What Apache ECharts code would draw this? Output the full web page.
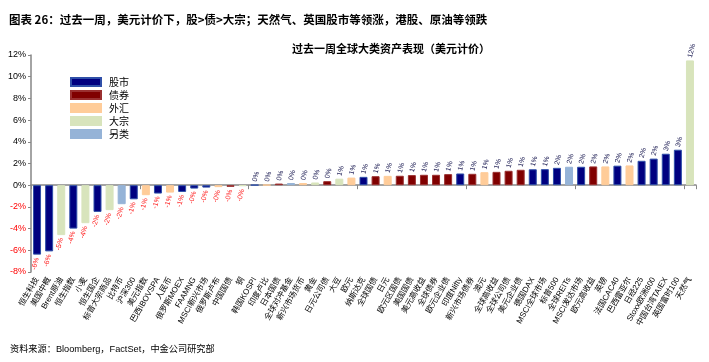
<!DOCTYPE html>
<html>
<head>
<meta charset="utf-8">
<script src="https://cdn.jsdelivr.net/npm/echarts@6/dist/echarts.min.js"></script>
<style>
html,body{margin:0;padding:0;background:#fff;}
#c{width:709px;height:362px;}
</style>
</head>
<body>
<div id="c"></div>
<script>
const categories = ['恒生科技','美国中概','Brent原油','恒生指数','小麦','恒生国企','标普大宗商品','比特币','沪深300','美元指数','巴西IBOVSPA','人民币','俄罗斯MOEX','FAAMNG','MSCI新兴市场','俄罗斯卢布','中国国债','铜','韩国KOSPI','印度卢比','日本国债','全球对冲基金','新兴市场货币','黄金','日元公司债','大豆','欧元','纳斯达克','全球国债','日元','欧元区国债','美国国债','美元高收益','全球债券','欧元企业债','印度Nifty','新兴市场债券','澳元','全球高收益','全球公司债','美元企业债','德国DAX','MSCI全球市场','标普500','全球REITs','MSCI发达市场','欧元高收益','英镑','法国CAC40','巴西雷亚尔','日经225','Stoxx欧洲600','中国台湾TAIEX','英国富时100','天然气'];
const values = [-6.4,-6.1,-4.6,-4.0,-3.5,-2.46,-2.3,-1.75,-1.3,-0.92,-0.77,-0.68,-0.62,-0.31,-0.22,-0.18,-0.15,-0.08,0.02,0.03,0.15,0.2,0.2,0.25,0.37,0.6,0.7,0.77,0.83,0.86,0.87,0.93,0.96,0.96,1.02,1.08,1.05,1.2,1.23,1.33,1.42,1.47,1.48,1.6,1.7,1.7,1.73,1.73,1.8,1.82,2.25,2.45,2.9,3.27,11.5];
const types = ['股市','股市','大宗','股市','大宗','股市','大宗','另类','股市','外汇','股市','外汇','股市','股市','股市','外汇','债券','大宗','股市','外汇','债券','另类','外汇','大宗','债券','大宗','外汇','股市','债券','外汇','债券','债券','债券','债券','债券','股市','债券','外汇','债券','债券','债券','股市','股市','股市','另类','股市','债券','外汇','股市','外汇','股市','股市','股市','股市','大宗'];
const seriesNames = ['股市','债券','外汇','大宗','另类'];
const seriesColors = ['#000080','#800000','#FFCC99','#D8E4BC','#95B3D7'];
const borderColors = ['#2F4FA8','#9A3030','#FFCC99','#D8E4BC','#95B3D7'];
const yTicks = {min:-8,max:12,interval:2};

const FONT = "'Liberation Sans','Noto Sans CJK SC',sans-serif";
function pct(v){ const s = v<0?'-':''; return s + Math.round(Math.abs(v)) + '%'; }

const series = seriesNames.map((name,k)=>({
  name, type:'bar', xAxisIndex:0, barWidth:8, barGap:'-100%',
  itemStyle:{color:seriesColors[k], borderColor:borderColors[k], borderWidth:1},
  data: values.map((v,i)=> types[i]===name ? {
    value:v,
    label: v>=0 ? {show:true, position:'top', rotate:75, align:'left', verticalAlign:'middle', distance:3, color:'#10104a'}
               : {show:true, position:'bottom', rotate:75, align:'right', verticalAlign:'middle', distance:3, color:'#FF2020'}
  } : '-'),
  label:{fontSize:7, fontFamily:FONT, formatter:p=>pct(p.value)}
}));

const chart = echarts.init(document.getElementById('c'));
chart.setOption({
  animation:false,
  backgroundColor:'#fff',
  title:[
    {text:'图表 26：过去一周，美元计价下，股>债>大宗；天然气、英国股市等领涨，港股、原油等领跌', left:4, top:9,
     textStyle:{fontSize:11.5, fontWeight:'bold', color:'#000', fontFamily:"'Noto Sans CJK SC',sans-serif"}},
    {text:'过去一周全球大类资产表现（美元计价）', left:386, textAlign:'center', top:38,
     textStyle:{fontSize:11, fontWeight:'bold', color:'#000', fontFamily:"'Noto Sans CJK SC',sans-serif"}},
    {text:'资料来源：Bloomberg，FactSet，中金公司研究部', left:5, top:340,
     textStyle:{fontSize:9.2, fontWeight:'normal', color:'#000', fontFamily:FONT}}
  ],
  legend:{
    orient:'vertical', left:65, top:71, itemWidth:30, itemHeight:8, itemGap:1,
    data:seriesNames, icon:'rect',
    textStyle:{fontSize:10, lineHeight:12, color:'#000', fontFamily:"'Noto Sans CJK SC',sans-serif", padding:[0,0,0,3]}
  },
  grid:{left:31, right:13, top:55, bottom:90, containLabel:false},
  xAxis:[
    {type:'category', data:categories, position:'bottom',
     axisLine:{onZero:true, lineStyle:{color:'#868686', width:1.5}},
     axisTick:{show:true, length:4, inside:false, lineStyle:{color:'#868686'}},
     axisLabel:{show:false}},
    {type:'category', data:categories, position:'bottom',
     axisLine:{show:false}, axisTick:{show:false},
     axisLabel:{interval:0, rotate:60, fontSize:8, margin:6, color:'#000', fontFamily:FONT}}
  ],
  yAxis:{type:'value', min:yTicks.min, max:yTicks.max, interval:yTicks.interval,
    splitLine:{show:false},
    axisLine:{show:true, lineStyle:{color:'#868686', width:1.5}},
    axisTick:{show:true, length:3, lineStyle:{color:'#868686'}},
    axisLabel:{formatter:'{value}%', fontSize:9, margin:5, fontFamily:FONT,
      color:v=> (Number(v)<0 ? '#FF0000' : '#000')}},
  series
});
</script>
</body>
</html>
